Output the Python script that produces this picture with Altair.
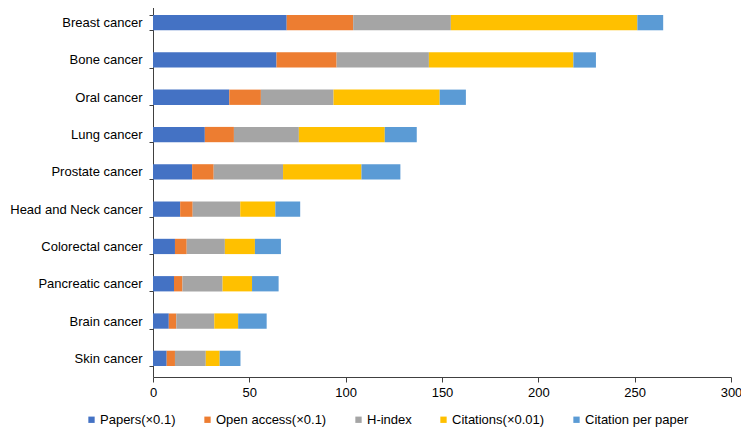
import altair as alt
import pandas as pd

categories = ["Breast cancer", "Bone cancer", "Oral cancer", "Lung cancer", "Prostate cancer",
              "Head and Neck cancer", "Colorectal cancer", "Pancreatic cancer", "Brain cancer", "Skin cancer"]
series = ["Papers(×0.1)", "Open access(×0.1)", "H-index", "Citations(×0.01)", "Citation per paper"]
papers = [69.4, 64.1, 39.6, 26.9, 20.3, 14.1, 11.4, 10.9, 8.2, 7.1]
open_access = [34.5, 31.2, 16.4, 15.1, 11.2, 6.5, 6.1, 4.4, 3.9, 4.3]
h_index = [50.7, 47.9, 37.7, 33.7, 36.0, 24.7, 19.8, 20.8, 19.7, 16.0]
citations = [96.8, 75.0, 55.1, 44.6, 40.7, 18.2, 15.6, 15.3, 12.4, 7.2]
citation_per_paper = [13.4, 11.7, 13.6, 16.6, 20.2, 12.9, 13.5, 13.8, 14.8, 10.8]
colors = ["#4472C4", "#ED7D31", "#A5A5A5", "#FFC000", "#5B9BD5"]

rows = []
for si, (name, vals) in enumerate(zip(series, [papers, open_access, h_index, citations, citation_per_paper])):
    for c, v in zip(categories, vals):
        rows.append({"cancer": c, "series": name, "value": v, "order": si})
df = pd.DataFrame(rows)

FONT = "Liberation Sans"

chart = alt.Chart(df).mark_bar().encode(
    y=alt.Y("cancer:N", sort=categories, title=None,
            scale=alt.Scale(paddingInner=0.59, paddingOuter=0.295),
            axis=alt.Axis(tickBand="extent", tickSize=4, labelPadding=7, labelFontSize=13,
                          labelColor="#000000", domainColor="#404040", tickColor="#404040",
                          labelFont=FONT, grid=False)),
    x=alt.X("value:Q", stack="zero", title=None,
            scale=alt.Scale(domain=[0, 300], nice=False),
            axis=alt.Axis(values=[0, 50, 100, 150, 200, 250, 300], tickSize=5, labelPadding=4,
                          labelFontSize=13, labelColor="#000000", labelFont=FONT, labelFlush=False,
                          domainColor="#404040", tickColor="#404040", grid=False)),
    color=alt.Color("series:N", sort=series, title=None,
                    scale=alt.Scale(domain=series, range=colors),
                    legend=alt.Legend(orient="none", legendX=-68, legendY=409, direction="horizontal",
                                      columns=5, columnPadding=25, symbolType="square", symbolSize=40,
                                      symbolStrokeWidth=0, labelFontSize=13, labelFont=FONT,
                                      labelColor="#000000", labelOffset=2, padding=0)),
    order=alt.Order("order:Q", sort="ascending"),
).properties(
    width=578, height=373,
    autosize=alt.AutoSizeParams(type="none"),
    padding={"left": 145, "top": -4, "right": 10, "bottom": 52},
).configure_view(stroke=None)

chart.save("out.html", embed_options={"renderer": "svg", "actions": False})
